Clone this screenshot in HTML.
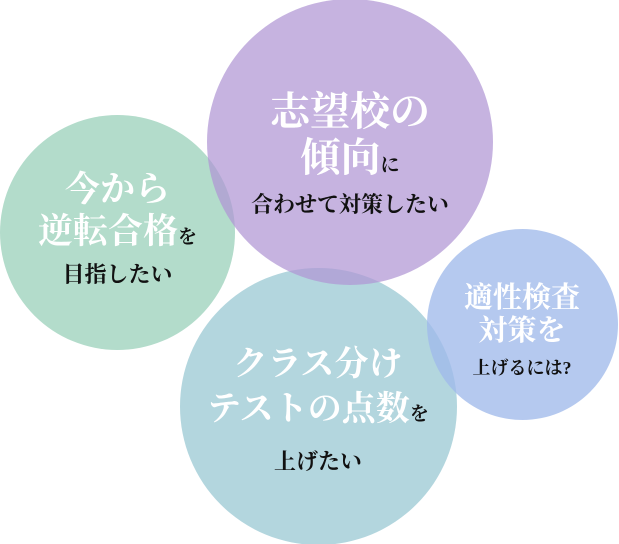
<!DOCTYPE html>
<html><head><meta charset="utf-8"><style>
html,body{margin:0;padding:0;background:#fff;}
#w{position:relative;width:619px;height:544px;overflow:hidden;font-family:"Liberation Serif","Noto Serif CJK SC",serif;}
.c{position:absolute;border-radius:50%;}
.t{position:absolute;text-align:center;white-space:nowrap;}
.wh{color:#fff;font-weight:bold;}
.bk{color:#111;font-weight:bold;}
</style></head><body><div id="w">
<div class="c" style="left:0;top:115px;width:235px;height:235px;background:#b3dccb;"></div>
<div class="c" style="left:180px;top:268px;width:277px;height:277px;background:#b3d6de;"></div>
<div class="c" style="left:207px;top:-1px;width:286px;height:286px;background:rgba(176,150,212,0.72);"></div>
<div class="c" style="left:427px;top:229px;width:191px;height:191px;background:rgba(160,186,234,0.78);"></div>

<div class="t wh" style="left:230px;top:89px;width:240px;font-size:40px;line-height:46px;">志望校の<br>傾向<span style="color:#111;font-size:19px;">に</span></div>
<div class="t bk" style="left:230px;top:191px;width:240px;font-size:22px;line-height:28px;">合わせて対策したい</div>

<div class="t wh" style="left:0;top:169px;width:235px;font-size:35px;line-height:42px;">今から<br>逆転合格<span style="color:#111;font-size:19px;">を</span></div>
<div class="t bk" style="left:0;top:261px;width:235px;font-size:22px;line-height:28px;">目指したい</div>

<div class="t wh" style="left:190px;top:342px;width:256px;font-size:34px;line-height:45px;">クラス分け<br>テストの点数<span style="color:#111;font-size:19px;">を</span></div>
<div class="t bk" style="left:218px;top:448px;width:200px;font-size:22px;line-height:28px;">上げたい</div>

<div class="t wh" style="left:432px;top:282px;width:180px;font-size:29px;line-height:33px;">適性検査<br>対策を</div>
<div class="t bk" style="left:432px;top:357px;width:180px;font-size:18px;line-height:22px;">上げるには?</div>
</div></body></html>
